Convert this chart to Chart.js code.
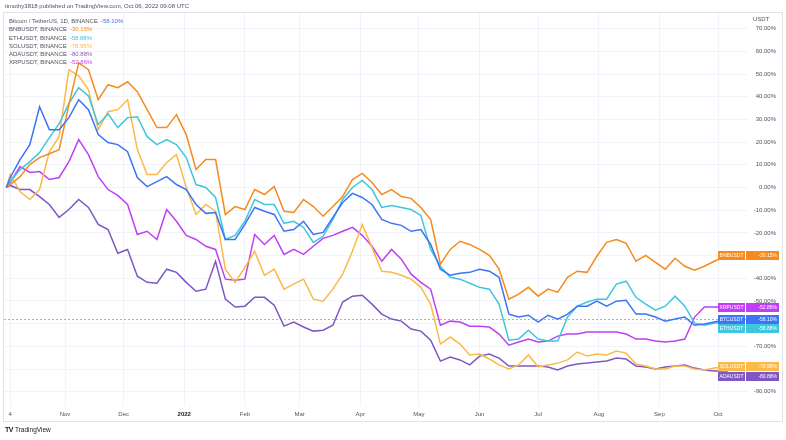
<!DOCTYPE html>
<html>
<head>
<meta charset="utf-8">
<script src="https://cdn.jsdelivr.net/npm/chart.js@4.4.0/dist/chart.umd.min.js"></script>
<style>
  html, body { margin: 0; padding: 0; background: #fff; }
  #wrap { position: relative; width: 786px; height: 440px; font-family: "Liberation Sans", Arial, sans-serif; overflow: hidden; }
  #chart { position: absolute; left: 0; top: 0; }
  .frame { position: absolute; left: 3px; top: 12px; width: 778px; height: 408px; border: 1px solid #e0e3eb; pointer-events: none; }
  .hdr { position: absolute; left: 5px; top: 3px; font-size: 6px; color: #50535e; white-space: nowrap; }
  .legend { position: absolute; left: 9px; top: 17px; font-size: 6px; line-height: 8.3px; color: #50535e; white-space: nowrap; }
  .legend span { margin-left: 3px; }
  .unit { position: absolute; left: 753px; top: 16px; font-size: 6px; color: #50535e; }
  .foot { position: absolute; left: 5px; top: 426px; font-size: 6.5px; color: #131722; white-space: nowrap; }
  .foot b { font-size: 7px; letter-spacing: -0.5px; margin-right: 2px; }
</style>
</head>
<body>
<div id="wrap">
  <canvas id="chart" width="786" height="440"></canvas>
  <div class="frame"></div>
  <div class="hdr">timothy3818 published on TradingView.com, Oct 06, 2022 09:08 UTC</div>
  <div class="legend" id="legend"></div>
  <div class="unit">USDT</div>
  <div class="foot"><b>TV</b>TradingView</div>
</div>
<script>
// days counted from 2 Oct 2021
const days = [0, 2, 7, 12, 17, 22, 27, 32, 37, 42, 47, 52, 57, 62, 67, 72, 77, 82, 87, 92, 97, 102, 107, 112, 117, 122, 127, 132, 137, 142, 147, 152, 157, 162, 167, 172, 177, 182, 187, 192, 197, 202, 207, 212, 217, 222, 227, 232, 237, 242, 247, 252, 257, 262, 267, 272, 277, 282, 287, 292, 297, 302, 307, 312, 317, 322, 327, 332, 337, 342, 347, 352, 357, 362, 369];

const monthTicks = [2, 30, 60, 91, 122, 150, 181, 211, 242, 272, 303, 334, 364];
const monthLabels = ['4', 'Nov', 'Dec', '2022', 'Feb', 'Mar', 'Apr', 'May', 'Jun', 'Jul', 'Aug', 'Sep', 'Oct'];
const percentTicks = [-90, -80, -70, -60, -50, -40, -30, -20, -10, 0, 10, 20, 30, 40, 50, 60, 70];

const btc = [0, 4.4, 12.3, 18.9, 35.6, 25.5, 25.5, 30.8, 38.7, 34.3, 23.3, 19.8, 18.9, 15.8, 4.4, 0.4, 2.6, 4.8, 1.3, -0.9, -7.5, -11.4, -11.0, -22.9, -22.9, -16.3, -8.8, -10.5, -11.9, -19.3, -18.5, -14.9, -20.7, -19.8, -13.2, -6.6, -2.6, -4.4, -7.5, -14.1, -15.8, -16.7, -19.3, -18.5, -25.1, -36.0, -38.7, -37.8, -37.4, -36.0, -36.9, -39.6, -55.8, -57.1, -56.3, -59.3, -56.3, -58.0, -55.8, -52.3, -52.3, -50.1, -52.3, -50.1, -49.7, -55.8, -55.8, -57.1, -58.9, -58.0, -57.1, -60.7, -60.2, -59.3, -58.10];
const bnb = [0, 1.3, 4.8, 10.1, 13.2, 14.9, 16.7, 36.5, 54.9, 51.9, 38.7, 45.3, 44.0, 46.6, 42.2, 34.3, 26.4, 26.4, 32.1, 23.3, 7.9, 12.3, 12.3, -11.9, -8.4, -9.7, -0.9, -3.1, 0.4, -10.5, -11.0, -5.3, -8.4, -12.7, -8.4, -4.0, 3.5, 6.2, 2.2, -3.1, -0.9, -4.0, -4.8, -8.8, -14.1, -33.8, -27.3, -23.7, -25.1, -27.3, -29.9, -36.0, -49.2, -47.0, -44.0, -47.9, -44.8, -46.1, -39.6, -36.9, -37.4, -30.3, -24.2, -22.9, -24.6, -32.5, -29.9, -33.0, -36.0, -31.2, -34.7, -36.5, -34.7, -32.5, -30.15];
const eth = [0, 2.6, 7.9, 11.4, 15.4, 22.0, 28.1, 37.0, 44.0, 40.4, 27.7, 32.5, 26.4, 30.8, 31.2, 22.4, 18.9, 21.1, 18.9, 13.2, 1.3, 0, -4.4, -22.9, -21.1, -14.9, -5.3, -7.5, -7.5, -15.8, -14.9, -17.6, -24.2, -21.5, -14.1, -5.3, 0, 3.1, -0.9, -8.8, -7.9, -8.8, -9.7, -12.3, -27.3, -34.7, -39.6, -40.4, -42.2, -44.0, -44.8, -51.4, -67.3, -66.8, -62.9, -66.8, -67.7, -67.7, -57.1, -52.3, -50.5, -49.2, -49.2, -42.6, -41.3, -48.4, -51.4, -54.1, -52.3, -47.9, -52.3, -59.8, -60.7, -59.8, -58.88];
const sol = [0, 5.7, -1.8, -5.3, -0.9, 15.8, 22.4, 51.9, 49.2, 43.1, 25.5, 33.4, 34.3, 38.7, 16.7, 5.7, 5.7, 11.0, 14.5, 0, -11.9, -7.5, -10.5, -36.0, -41.8, -35.2, -28.1, -38.7, -36.0, -44.8, -42.6, -40.4, -49.2, -50.1, -44.8, -38.2, -28.1, -16.3, -26.4, -36.9, -37.4, -38.7, -40.4, -44.0, -51.4, -69.0, -65.9, -69.0, -73.8, -73.4, -75.6, -78.2, -80.0, -78.2, -73.8, -79.1, -78.2, -77.4, -76.0, -72.5, -74.3, -73.4, -73.8, -72.1, -73.0, -77.8, -78.7, -80.0, -80.0, -78.7, -78.7, -80.0, -80.4, -79.6, -78.95];
const ada = [0, 0.9, -0.9, -0.9, -4.0, -7.5, -13.2, -9.7, -5.3, -8.8, -16.3, -18.5, -29.0, -27.3, -39.1, -41.8, -42.2, -36.0, -37.4, -41.8, -45.7, -44.8, -32.5, -49.2, -52.7, -52.3, -48.4, -48.4, -51.9, -61.1, -59.3, -61.5, -63.3, -62.9, -60.7, -50.5, -47.9, -47.5, -51.4, -55.8, -58.0, -58.9, -62.4, -63.3, -67.3, -76.5, -74.7, -76.0, -78.2, -74.3, -73.4, -75.2, -78.7, -78.7, -78.7, -78.7, -79.1, -80.4, -78.7, -77.8, -77.4, -76.9, -76.5, -75.2, -75.6, -78.7, -79.1, -80.0, -79.1, -78.7, -78.2, -79.6, -80.4, -80.9, -80.88];
const xrp = [0, 2.2, 9.2, 6.6, 7.0, 3.5, 4.4, 11.4, 21.1, 14.5, 4.8, -0.9, -3.5, -7.5, -20.7, -19.3, -22.9, -9.7, -14.9, -21.1, -22.9, -25.9, -27.3, -40.4, -40.9, -40.4, -20.7, -25.1, -21.1, -29.5, -27.3, -29.5, -25.9, -22.4, -21.1, -19.3, -17.6, -21.1, -25.9, -32.5, -27.3, -31.6, -38.2, -41.8, -44.8, -60.7, -58.9, -59.3, -61.1, -61.1, -61.5, -64.6, -69.5, -68.1, -66.8, -68.1, -67.7, -65.5, -64.6, -64.6, -63.7, -63.7, -63.7, -63.7, -64.6, -66.8, -66.8, -67.7, -68.1, -67.7, -66.8, -57.1, -52.7, -52.7, -52.86];

const series = [
  { name: 'Bitcoin / TetherUS, 1D, BINANCE', badge: 'BTCUSDT', data: btc, color: '#3b74f6' },
  { name: 'BNBUSDT, BINANCE', badge: 'BNBUSDT', data: bnb, color: '#f68a1e' },
  { name: 'ETHUSDT, BINANCE', badge: 'ETHUSDT', data: eth, color: '#3ec6dc' },
  { name: 'SOLUSDT, BINANCE', badge: 'SOLUSDT', data: sol, color: '#fbb94a' },
  { name: 'ADAUSDT, BINANCE', badge: 'ADAUSDT', data: ada, color: '#7e57c2' },
  { name: 'XRPUSDT, BINANCE', badge: 'XRPUSDT', data: xrp, color: '#bf3ff5' }
];

const last = arr => arr[arr.length - 1];
const pct = v => v.toFixed(2) + '%';
const isYear = ctx => !!ctx.tick && monthLabels[monthTicks.indexOf(ctx.tick.value)] === '2022';

// legend block in the top-left corner
const legend = document.getElementById('legend');
series.forEach(s => {
  const row = document.createElement('div');
  row.textContent = s.name;
  const val = document.createElement('span');
  val.textContent = pct(last(s.data));
  val.style.color = s.color;
  row.appendChild(val);
  legend.appendChild(row);
});

// dotted line at the main symbol's last value
const lastLine = {
  id: 'lastLine',
  beforeDatasetsDraw(chart) {
    const { ctx, chartArea, scales } = chart;
    const y = Math.round(scales.y.getPixelForValue(last(btc))) + 0.5;
    ctx.save();
    ctx.setLineDash([2, 2]);
    ctx.strokeStyle = 'rgba(59,116,246,0.55)';
    ctx.lineWidth = 1;
    ctx.beginPath();
    ctx.moveTo(chartArea.left, y);
    ctx.lineTo(chartArea.right, y);
    ctx.stroke();
    ctx.restore();
  }
};

// price-scale badges with the last values
const badges = {
  id: 'badges',
  afterDraw(chart) {
    const { ctx, chartArea, scales } = chart;
    const h = 9;
    const items = series.map(s => ({ s, y: scales.y.getPixelForValue(last(s.data)) }))
      .sort((a, b) => a.y - b.y);
    for (let i = 1; i < items.length; i++) {
      if (items[i].y - items[i - 1].y < h + 0.5) items[i].y = items[i - 1].y + h + 0.5;
    }
    const x0 = chartArea.right - 30;
    const x1 = chartArea.right - 2;
    const x2 = chartArea.right + 31;
    ctx.save();
    ctx.font = '5px "Liberation Sans", Arial, sans-serif';
    ctx.textBaseline = 'middle';
    items.forEach(({ s, y }) => {
      const top = Math.round(y - h / 2);
      ctx.fillStyle = s.color;
      ctx.fillRect(x0, top, 27, h);
      ctx.fillRect(x1, top, x2 - x1, h);
      ctx.fillStyle = '#fff';
      ctx.textAlign = 'center';
      ctx.fillText(s.badge, x0 + 13.5, top + h / 2 + 0.5);
      ctx.textAlign = 'right';
      ctx.fillText(pct(last(s.data)), x2 - 2, top + h / 2 + 0.5);
    });
    ctx.restore();
  }
};

new Chart(document.getElementById('chart'), {
  type: 'line',
  data: {
    datasets: series.map(s => ({
      label: s.badge,
      data: days.map((d, i) => ({ x: d, y: s.data[i] })),
      borderColor: s.color,
      borderWidth: 1.5,
      pointRadius: 0,
      tension: 0,
      fill: false
    }))
  },
  options: {
    responsive: false,
    animation: false,
    events: [],
    layout: { padding: { left: 4, top: 13, right: 10, bottom: 19 } },
    plugins: { legend: { display: false }, tooltip: { enabled: false } },
    scales: {
      x: {
        type: 'linear',
        min: -1.2,
        max: 379.3,
        afterBuildTicks: scale => { scale.ticks = monthTicks.map(v => ({ value: v })); },
        afterFit: scale => { scale.height = 15; },
        grid: { color: '#f0f3fa', drawTicks: false },
        border: { display: false },
        ticks: {
          autoSkip: false,
          maxRotation: 0,
          padding: 5,
          color: ctx => isYear(ctx) ? '#131722' : '#50535e',
          font: ctx => ({ family: '"Liberation Sans", Arial, sans-serif', size: 6, weight: isYear(ctx) ? 'bold' : 'normal' }),
          callback: v => monthLabels[monthTicks.indexOf(v)]
        }
      },
      y: {
        position: 'right',
        min: -96.3,
        max: 76.9,
        afterBuildTicks: scale => { scale.ticks = percentTicks.map(v => ({ value: v })); },
        afterFit: scale => { scale.width = 28; },
        grid: { color: '#f0f3fa', drawTicks: false },
        border: { display: false },
        ticks: {
          crossAlign: 'far',
          padding: 0,
          color: '#50535e',
          font: { family: '"Liberation Sans", Arial, sans-serif', size: 6 },
          callback: v => pct(v)
        }
      }
    }
  },
  plugins: [lastLine, badges]
});
</script>
</body>
</html>
